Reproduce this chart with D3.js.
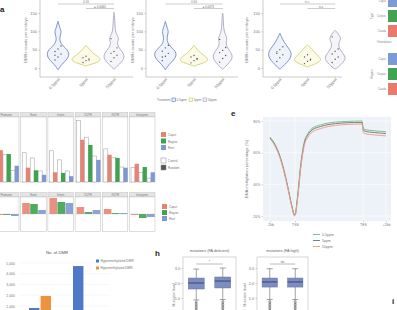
<!DOCTYPE html>
<html><head><meta charset="utf-8">
<script src="https://cdn.jsdelivr.net/npm/d3@7"></script>
<style>body{margin:0;background:#fff}svg{display:block}text{font-family:"Liberation Sans",Arial,sans-serif}</style>
</head><body><svg id="c" width="397" height="310"></svg>
<script>
// ---------------- DATA ----------------
const treatments = ["0.5ppm","5ppm","50ppm"];
const violinTicks = [0,50,100,150];
// violin density profiles: [count, relative density]
const vP1_05 = [[-5,0],[0,0.1],[10,0.35],[20,0.7],[30,0.95],[40,1],[50,0.85],[60,0.45],[70,0.2],[80,0.15],[90,0.22],[100,0.32],[110,0.15],[120,0.07],[128,0]];
const vP1_5  = [[5,0],[10,0.45],[15,1.0],[20,1.25],[25,1.3],[30,1.15],[38,0.75],[45,0.5],[52,0.3],[58,0.1],[62,0]];
const vP1_50 = [[-3,0],[0,0.15],[10,0.45],[20,0.8],[30,0.95],[40,0.85],[50,0.6],[60,0.35],[70,0.3],[80,0.45],[88,0.3],[100,0.12],[120,0.08],[140,0.05],[152,0]];
const vP2_05 = [[-5,0],[0,0.1],[10,0.35],[20,0.7],[30,0.95],[40,1],[50,0.8],[60,0.4],[70,0.2],[80,0.15],[90,0.2],[100,0.3],[110,0.15],[120,0.07],[127,0]];
const vP2_5  = [[5,0],[10,0.45],[15,1.0],[20,1.25],[25,1.25],[30,1.1],[38,0.75],[45,0.45],[52,0.25],[58,0.1],[62,0]];
const vP2_50 = [[-3,0],[0,0.15],[10,0.45],[20,0.75],[30,0.9],[40,0.8],[50,0.55],[60,0.35],[70,0.3],[80,0.4],[88,0.3],[100,0.12],[120,0.07],[140,0.05],[150,0]];
const vP3_05 = [[-3,0],[0,0.15],[10,0.45],[20,0.8],[30,1.0],[40,1.05],[50,0.9],[60,0.65],[70,0.4],[80,0.22],[90,0.08],[95,0]];
const vP3_5  = [[3,0],[8,0.45],[15,1.0],[22,1.25],[30,1.1],[40,0.7],[50,0.45],[58,0.2],[62,0]];
const vP3_50 = [[-2,0],[0,0.2],[10,0.55],[20,0.85],[30,0.95],[40,0.7],[50,0.45],[60,0.3],[70,0.35],[80,0.55],[90,0.35],[100,0.1],[103,0]];
// embryo points
const ptsP1 = [[22,30,38,45,52,60,35],[15,20,25,28,32,22],[18,28,35,40,45,55,80]];
const ptsP2 = [[20,32,40,46,55,62,30],[14,20,26,30,34,24],[16,26,34,42,48,56,78]];
const ptsP3 = [[18,28,36,44,50,58,40],[12,18,24,30,36,22],[15,24,30,38,46,52,85]];
const sigP1 = ["0.56","\u25cf 0.0065"];
const sigP2 = ["0.60","\u25cf 0.0071"];
const sigP3 = ["n.s.","n.s."];

// panel d
const regions = ["Promoter","Exon","Intron","5'UTR","3'UTR","Intergenic"];
const segCats = ["Caput","Region","Rest"];
const ctrlVals = [[65,42,18],[45,37,17],[48,34,17],[95,69,40],[51,38,23],[22,15,6]];
const trtVals  = [[49,43,25],[22,18,11],[15,14,9],[65,57,34],[42,37,22],[28,23,15]];
const diffVals = [[-1,-1,-2],[11,10,4],[16,12,11],[7,2,4],[5,1,1],[-1,-4,-3]];
const ctrlLegend = ["Control","Random"];

// panel e
const metaPos = [0,4,8,12,14,16,18,19.5,20.5,22,24,26,28,31,35,40,50,60,75,90,99,100,101,110,120];
const meth05 = [69.8,65.3,57.8,46.4,39.4,31.8,24.8,21.0,21.8,27.8,37.5,49.0,57.8,67.0,72.0,75.3,77.5,78.8,79.6,79.9,80.0,76.2,74.8,73.8,73.2];
const meth5  = [69.3,64.8,57.3,45.9,39.0,31.4,24.4,20.6,21.3,27.0,36.4,47.8,56.6,66.0,71.0,74.3,76.5,77.8,78.7,79.0,79.0,75.0,73.7,72.7,72.1];
const meth50 = [68.8,64.2,56.6,45.2,38.4,30.8,23.9,20.0,20.7,26.2,35.2,46.4,55.2,64.6,69.6,72.9,75.2,76.6,77.6,78.0,78.0,73.6,72.2,71.2,70.6];
const methTicks = [20,40,60,80];
const metaTickPos = [0,20,100,120];
const metaTickLab = ["-2kb","TSS","TES","+2kb"];

// panel f
const dmrGroups = ["5ppm","50ppm"];
const hyperDMR = [810,4716];
const hypoDMR = [1925,450];
const dmrTicks = [1000,2000,3000,4000,5000];

// panel h  stats: [lowWhisker, q1, median, q3, highWhisker]
const boxGroups = ["Control","Treated"];
const faDefStats = [[0.87,1.6,2.0,2.33,2.93],[0.9,1.67,2.13,2.4,3.0]];
const faHighStats = [[0.9,1.73,2.07,2.33,2.95],[0.9,1.73,2.07,2.33,2.95]];
const faDefOut = [[0.75,0.65,0.55,0.45,0.35,0.25,0.15],[0.78,0.68,0.58,0.48,0.38,0.28,0.18]];
const faHighOut = [[0.78,0.68,0.58,0.48,0.38,0.28,0.18],[0.78,0.68,0.58,0.48,0.38,0.28,0.18]];
const boxTicks = [1,2,3];

// right strip legend
const stripCats = ["Caput","Corpus","Cauda"];

// ---------------- DRAW ----------------
const svg = d3.select("#c");
svg.append("rect").attr("width",397).attr("height",310).attr("fill","#fff");
function T(x,y,s,size,o={}){
  const t = svg.append("text").attr("x",x).attr("y",y).text(s)
    .attr("font-size",size).attr("fill",o.fill||"#666")
    .attr("text-anchor",o.anchor||"start");
  if(o.weight) t.attr("font-weight",o.weight);
  if(o.rot!==undefined) t.attr("transform",`rotate(${o.rot},${x},${y})`);
  return t;
}
function styleAxis(g,size){
  g.selectAll("text").attr("font-size",size).attr("fill","#777").attr("font-family","Liberation Sans, Arial, sans-serif");
  g.selectAll("line").attr("stroke","#999").attr("stroke-width",0.5);
  g.select(".domain").remove();
}

// panel letters
T(0,12,"a",8,{fill:"#222",weight:"bold"});
T(231,116,"e",8,{fill:"#222",weight:"bold"});
T(155,256,"h",8,{fill:"#222",weight:"bold"});
T(392,304,"i",8,{fill:"#222",weight:"bold"});

// ---- panel a violins
const vStroke = ["#7489c6","#d6cf72","#a7a9c4"];
const vFill = ["#eef2fb","#fbfae6","#f5f5f9"];
const yV = d3.scaleLinear().domain([0,150]).range([68,13]);
const wV = d3.scaleLinear().domain([0,1]).range([0,11]);
const vPanels = [
  {x0:40,x1:133,range:[44,128],yl:27,prof:[vP1_05,vP1_5,vP1_50],pts:ptsP1,sig:sigP1},
  {x0:146,x1:238,range:[151,237],yl:134,prof:[vP2_05,vP2_5,vP2_50],pts:ptsP2,sig:sigP2},
  {x0:263,x1:342,range:[266,349],yl:248,prof:[vP3_05,vP3_5,vP3_50],pts:ptsP3,sig:sigP3}
];
vPanels.forEach(p=>{
  const x = d3.scalePoint().domain(treatments).range(p.range).padding(0.5);
  const g = svg.append("g");
  g.append("line").attr("x1",p.x0).attr("x2",p.x0).attr("y1",0).attr("y2",77).attr("stroke","#aaa").attr("stroke-width",0.6);
  g.append("line").attr("x1",p.x0).attr("x2",p.x1).attr("y1",77).attr("y2",77).attr("stroke","#aaa").attr("stroke-width",0.6);
  const ax = g.append("g").attr("transform",`translate(${p.x0},0)`).call(d3.axisLeft(yV).tickValues(violinTicks).tickSize(1.5).tickPadding(1.5));
  styleAxis(ax,4);
  T(p.yl,40,"DMRs counts per embryo",4,{anchor:"middle",rot:-90,fill:"#777"});
  treatments.forEach((t,i)=>{
    const cx = x(t);
    const area = d3.area().curve(d3.curveBasis).y(d=>yV(d[0])).x0(d=>cx-wV(d[1])).x1(d=>cx+wV(d[1]));
    g.append("path").attr("d",area(p.prof[i])).attr("fill",vFill[i]).attr("stroke",vStroke[i]).attr("stroke-width",0.9);
    g.selectAll(null).data(p.pts[i]).enter().append("circle")
      .attr("cx",(d,j)=>cx+((j%3)-1)*3).attr("cy",d=>yV(d)).attr("r",0.7).attr("fill","#555");
    g.append("line").attr("x1",cx).attr("x2",cx).attr("y1",77).attr("y2",78.5).attr("stroke","#999").attr("stroke-width",0.5);
    T(cx+2,80,t,4,{anchor:"end",rot:-45,fill:"#777"});
  });
  const xs = treatments.map(t=>x(t));
  g.append("line").attr("x1",xs[0]).attr("x2",xs[2]).attr("y1",4).attr("y2",4).attr("stroke","#999").attr("stroke-width",0.5);
  T((xs[0]+xs[2])/2,2.8,p.sig[0],3,{anchor:"middle",fill:"#777"});
  g.append("line").attr("x1",xs[1]).attr("x2",xs[2]).attr("y1",8.5).attr("y2",8.5).attr("stroke","#999").attr("stroke-width",0.5);
  T((xs[1]+xs[2])/2,7.5,p.sig[1],3,{anchor:"middle",fill:"#666"});
});
// treatment legend
T(157,101,"Treatment",3,{fill:"#777"});
let lx = 172;
treatments.forEach((t,i)=>{
  svg.append("rect").attr("x",lx).attr("y",98).attr("width",3.5).attr("height",3.5).attr("fill",vFill[i]).attr("stroke",vStroke[i]).attr("stroke-width",0.7);
  T(lx+4.5,101,t,3,{fill:"#777"});
  lx += 4.5 + t.length*1.7 + 2.5;
});

// right strip legend
[[-5,"Type"],[53,"Region"]].forEach(([y0,lab],k)=>{
  const yb = d3.scaleBand().domain(stripCats).range([y0,y0+42]).paddingInner(0.2);
  const cols = ["#7b9bd6","#43a352","#ea7b6c"];
  stripCats.forEach((c,i)=>{
    svg.append("rect").attr("x",388).attr("y",yb(c)).attr("width",12).attr("height",yb.bandwidth()).attr("fill",cols[i]);
    T(386,yb(c)+yb.bandwidth()/2+1,c,2.8,{anchor:"end",fill:"#888"});
  });
  T(373,y0+21,lab,3,{anchor:"middle",rot:-90,fill:"#888"});
});
T(384,43,"Orientation",3,{anchor:"middle",fill:"#888"});

// ---- panel d facets
const segCol = ["#e58474","#3ea24e","#7f98d0"];
const fx = d3.scaleBand().domain(regions).range([-6.5,155]).paddingInner(0.0625).paddingOuter(0);
const gx = d3.scaleBand().domain([0,1,2]).range([1.5,25.5]);
const yTop = d3.scaleLinear().domain([0,100]).range([182,117]);
const yBot = d3.scaleLinear().domain([-17,18]).range([231,196]);
regions.forEach((r,fi)=>{
  const x0 = fx(r), w = fx.bandwidth();
  svg.append("rect").attr("x",x0).attr("y",112.5).attr("width",w).attr("height",4.5).attr("fill","#e4e4e4").attr("stroke","#bbb").attr("stroke-width",0.4);
  T(x0+w/2,115.8,r,2.8,{anchor:"middle",fill:"#777"});
  svg.append("rect").attr("x",x0).attr("y",117).attr("width",w).attr("height",65).attr("fill","#fff").attr("stroke","#bbb").attr("stroke-width",0.5);
  [0,1,2].forEach(gi=>{
    const bx = x0+gx(gi);
    svg.append("rect").attr("x",bx).attr("y",yTop(ctrlVals[fi][gi])).attr("width",4).attr("height",yTop(0)-yTop(ctrlVals[fi][gi]))
      .attr("fill","#fff").attr("stroke","#999").attr("stroke-width",0.5);
    svg.append("rect").attr("x",bx+3.6).attr("y",yTop(trtVals[fi][gi])).attr("width",4.3).attr("height",yTop(0)-yTop(trtVals[fi][gi]))
      .attr("fill",segCol[gi]);
  });
  svg.append("rect").attr("x",x0).attr("y",192.5).attr("width",w).attr("height",4.5).attr("fill","#e4e4e4").attr("stroke","#bbb").attr("stroke-width",0.4);
  T(x0+w/2,195.8,r,2.8,{anchor:"middle",fill:"#777"});
  svg.append("rect").attr("x",x0).attr("y",197).attr("width",w).attr("height",34.5).attr("fill","#fff").attr("stroke","#bbb").attr("stroke-width",0.5);
  [0,1,2].forEach(gi=>{
    const v = diffVals[fi][gi];
    const bx = x0+gx(gi);
    svg.append("rect").attr("x",bx).attr("y",yBot(Math.max(0,v))).attr("width",7.6).attr("height",Math.abs(yBot(v)-yBot(0)))
      .attr("fill",segCol[gi]).attr("opacity",0.9);
  });
  svg.append("line").attr("x1",x0).attr("x2",x0+w).attr("y1",yBot(0)).attr("y2",yBot(0)).attr("stroke","#aaa").attr("stroke-width",0.3);
});
segCats.forEach((c,i)=>{
  svg.append("rect").attr("x",161).attr("y",132+i*6.5).attr("width",5).attr("height",5).attr("fill",segCol[i]);
  T(168,136+i*6.5,c,3,{fill:"#777"});
  svg.append("rect").attr("x",162).attr("y",204+i*6).attr("width",5).attr("height",5).attr("fill",segCol[i]);
  T(169,208+i*6,c,3,{fill:"#777"});
});
ctrlLegend.forEach((c,i)=>{
  svg.append("rect").attr("x",161).attr("y",158+i*7).attr("width",5).attr("height",5).attr("fill",i?"#555":"#fff").attr("stroke","#888").attr("stroke-width",0.5);
  T(168,162+i*7,c,3,{fill:"#777"});
});

// ---- panel e
const xE = d3.scaleLinear().domain([0,20,100,120]).range([270,295,363,386]);
const yE = d3.scaleLinear().domain([20,80]).range([216,121]);
svg.append("rect").attr("x",263).attr("y",117).attr("width",128).attr("height",104).attr("fill","#edf2f8");
methTicks.forEach(v=>svg.append("line").attr("x1",263).attr("x2",391).attr("y1",yE(v)).attr("y2",yE(v)).attr("stroke","#fff").attr("stroke-width",0.6));
metaTickPos.forEach(v=>svg.append("line").attr("x1",xE(v)).attr("x2",xE(v)).attr("y1",117).attr("y2",221).attr("stroke","#fff").attr("stroke-width",0.6));
const axE = svg.append("g").attr("transform","translate(263,0)").call(d3.axisLeft(yE).tickValues(methTicks).tickFormat(d=>d+"%").tickSize(1.2).tickPadding(1.5));
styleAxis(axE,3.5);
const axEx = svg.append("g").attr("transform","translate(0,221)").call(d3.axisBottom(xE).tickValues(metaTickPos).tickFormat((d,i)=>metaTickLab[i]).tickSize(1.2).tickPadding(1.5));
styleAxis(axEx,3.5);
T(248,169,"DNA methylation percentage (%)",4,{anchor:"middle",rot:-90,fill:"#777"});
const methSeries = [meth05,meth5,meth50];
const methCol = ["#7dc28c","#7f7f7f","#eea191"];
const lineE = d3.line().x((d,i)=>xE(metaPos[i])).y(d=>yE(d)).curve(d3.curveMonotoneX);
methSeries.forEach((s,i)=>svg.append("path").attr("d",lineE(s)).attr("fill","none").attr("stroke",methCol[i]).attr("stroke-width",1));
treatments.forEach((t,i)=>{
  svg.append("line").attr("x1",313).attr("x2",320).attr("y1",234.5+i*6).attr("y2",234.5+i*6).attr("stroke",methCol[i]).attr("stroke-width",1);
  T(322,236+i*6,t,3.5,{fill:"#777"});
});

// ---- panel f
const xF = d3.scaleBand().domain(dmrGroups).range([18,106]).paddingInner(0.5).paddingOuter(0.25);
const xF2 = d3.scaleBand().domain(["hyper","hypo"]).range([0,xF.bandwidth()]).paddingInner(0.1);
const yF = d3.scaleLinear().domain([0,5000]).range([316.7,263]);
const axF = svg.append("g").attr("transform","translate(18,0)").call(d3.axisLeft(yF).tickValues(dmrTicks).tickSize(0).tickPadding(3));
styleAxis(axF,3.5);
dmrTicks.forEach(v=>svg.append("line").attr("x1",19).attr("x2",110).attr("y1",yF(v)).attr("y2",yF(v)).attr("stroke","#eee").attr("stroke-width",0.4));
dmrGroups.forEach((g,i)=>{
  svg.append("rect").attr("x",xF(g)+xF2("hyper")).attr("y",yF(hyperDMR[i])).attr("width",xF2.bandwidth()).attr("height",yF(0)-yF(hyperDMR[i])).attr("fill","#4f78c8");
  svg.append("rect").attr("x",xF(g)+xF2("hypo")).attr("y",yF(hypoDMR[i])).attr("width",xF2.bandwidth()).attr("height",yF(0)-yF(hypoDMR[i])).attr("fill","#ee9240");
});
T(57,254,"No. of DMR",4.2,{anchor:"middle",fill:"#555"});
[["Hypermethylated DMR","#4f78c8"],["Hypomethylated DMR","#ee9240"]].forEach(([l,c],i)=>{
  svg.append("rect").attr("x",96).attr("y",259.5+i*7).attr("width",3).attr("height",3).attr("fill",c);
  T(100.5,262.3+i*7,l,3.3,{fill:"#777"});
});

// ---- panel h
const yH = d3.scaleLinear().domain([1,3]).range([298,268]);
[{x0:183,x1:236,title:"mutations (FA deficient)",stats:faDefStats,out:faDefOut,sig:"*",yl:175},
 {x0:257,x1:308,title:"mutations (FA high)",stats:faHighStats,out:faHighOut,sig:"ns",yl:246}].forEach(p=>{
  const xb = d3.scaleBand().domain(boxGroups).range([p.x0,p.x1]).paddingInner(0.4).paddingOuter(0.2);
  svg.append("rect").attr("x",p.x0).attr("y",257).attr("width",p.x1-p.x0).attr("height",60).attr("fill","#fff").attr("stroke","#bbb").attr("stroke-width",0.6);
  T((p.x0+p.x1)/2,252,p.title,3.8,{anchor:"middle",fill:"#666"});
  const ax = svg.append("g").attr("transform",`translate(${p.x0},0)`).call(d3.axisLeft(yH).tickValues(boxTicks).tickSize(1.5).tickPadding(1.5));
  styleAxis(ax,3.8);
  T(p.yl,295,"Mutation level",3.8,{anchor:"middle",rot:-90,fill:"#777"});
  boxGroups.forEach((b,i)=>{
    const s = p.stats[i], bx = xb(b), bw = xb.bandwidth(), cx = bx+bw/2;
    svg.append("line").attr("x1",cx).attr("x2",cx).attr("y1",yH(s[4])).attr("y2",yH(s[0])).attr("stroke","#666").attr("stroke-width",0.6);
    [s[4],s[0]].forEach(v=>svg.append("line").attr("x1",cx-3).attr("x2",cx+3).attr("y1",yH(v)).attr("y2",yH(v)).attr("stroke","#666").attr("stroke-width",0.6));
    svg.append("rect").attr("x",bx).attr("y",yH(s[3])).attr("width",bw).attr("height",yH(s[1])-yH(s[3])).attr("fill","#7d8dbf").attr("stroke","#5f6fa0").attr("stroke-width",0.5);
    svg.append("line").attr("x1",bx).attr("x2",bx+bw).attr("y1",yH(s[2])).attr("y2",yH(s[2])).attr("stroke","#2f3d6e").attr("stroke-width",0.9);
    svg.selectAll(null).data(p.out[i]).enter().append("circle").attr("cx",cx).attr("cy",d=>yH(d)).attr("r",1).attr("fill","none").attr("stroke","#555").attr("stroke-width",0.5);
  });
  const c1 = xb(boxGroups[0])+xb.bandwidth()/2, c2 = xb(boxGroups[1])+xb.bandwidth()/2;
  svg.append("line").attr("x1",c1).attr("x2",c2).attr("y1",264).attr("y2",264).attr("stroke","#777").attr("stroke-width",0.5);
  T((c1+c2)/2,262.5,p.sig,3.5,{anchor:"middle",fill:"#666"});
});
</script></body></html>
